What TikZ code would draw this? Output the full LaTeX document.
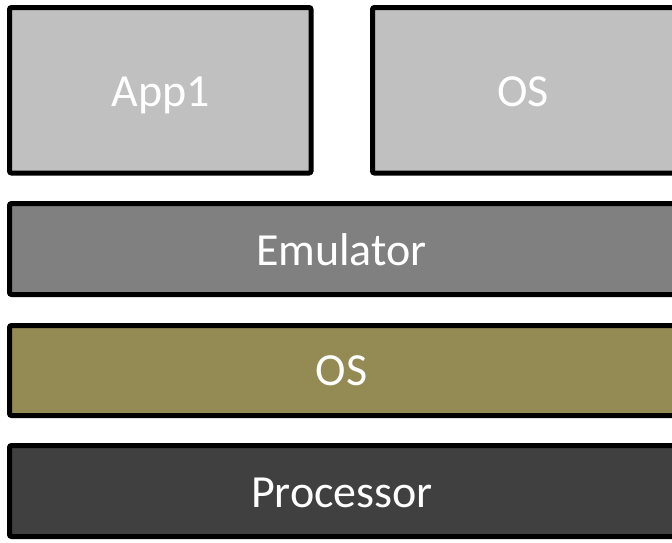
\documentclass[tikz,border=0pt]{standalone}
\usepackage{fontspec}
\setmainfont{Carlito}
\definecolor{appgray}{HTML}{C0C0C0}
\definecolor{emugray}{HTML}{808080}
\definecolor{osolive}{HTML}{948A54}
\definecolor{cpugray}{HTML}{404040}
\begin{document}
\begin{tikzpicture}[x=1pt,y=-1pt,
  layer/.style={draw=black, line width=5pt, rounded corners=2pt},
  lbl/.style={text=white, anchor=base, inner sep=0pt, font=\fontsize{46}{50}\selectfont}]
\useasboundingbox (0,0) rectangle (672,542);
\begin{scope}
\clip (0,0) rectangle (672,542);
% guest layer
\draw[layer, fill=appgray] (9.5,7.5) rectangle (311,173);
\draw[layer, fill=appgray] (372.5,7.5) rectangle (690,173);
% emulator, host OS, hardware
\draw[layer, fill=emugray] (9.5,203.5) rectangle (690,294.5);
\draw[layer, fill=osolive] (9.5,325.5) rectangle (690,415.5);
\draw[layer, fill=cpugray] (9.5,445.5) rectangle (690,536.5);
\end{scope}
% labels, placed on their baselines
\node[lbl] (app) at (160.5,106) {App1};
\node[lbl] (guestos) at (523,106) {OS};
\node[lbl] (emu) at (341.5,265) {Emulator};
\node[lbl] (hostos) at (341.5,385.5) {OS};
\node[lbl] (cpu) at (342,507.5) {Processor};
\end{tikzpicture}
\end{document}
